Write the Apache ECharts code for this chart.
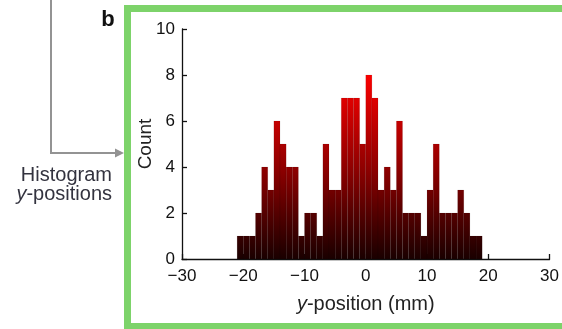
<!DOCTYPE html>
<html>
<head>
<meta charset="utf-8">
<script src="https://cdn.jsdelivr.net/npm/echarts@6/dist/echarts.min.js"></script>
<style>
  html, body { margin: 0; padding: 0; background: #fff; }
  #chart { width: 562px; height: 329px; }
</style>
</head>
<body>
<div id="chart"></div>
<script>
// histogram of y-positions, 1 mm bins starting at -21 mm
var binStart = -21;
var binWidth = 1;
var counts = [1, 1, 1, 2, 4, 3, 6, 5, 4, 4,
              1, 2, 2, 1, 5, 3, 3, 7, 7, 7,
              5, 8, 7, 3, 4, 3, 6, 2, 2, 2,
              1, 3, 5, 2, 2, 2, 3, 2, 1, 1];
var xTicks = [-30, -20, -10, 0, 10, 20, 30];
var yTicks = [0, 2, 4, 6, 8, 10];

var font = '"Liberation Sans", Arial, Helvetica, sans-serif';

// [left edge, right edge, count]
var bins = counts.map(function (c, i) {
    var left = binStart + i * binWidth;
    return [left, left + binWidth, c];
});

var chart = echarts.init(document.getElementById('chart'));

var option = {
    animation: false,
    grid: { left: 182, right: 9, top: 29, bottom: 70 },
    xAxis: {
        type: 'value',
        min: xTicks[0],
        max: xTicks[xTicks.length - 1],
        interval: 10,
        name: '{i|y}-position (mm)',
        nameLocation: 'middle',
        nameGap: 35,
        nameTextStyle: {
            fontFamily: font, fontSize: 20, color: '#222',
            rich: { i: { fontStyle: 'italic', fontFamily: font, fontSize: 20, color: '#222' } }
        },
        axisLine: { show: true, onZero: false, lineStyle: { color: '#111', width: 1.3 } },
        axisTick: { show: true, inside: true, length: 5, lineStyle: { color: '#111', width: 1.3 } },
        axisLabel: {
            fontFamily: font, fontSize: 17, color: '#111', margin: 9,
            formatter: function (v) { return v < 0 ? '\u2212' + Math.abs(v) : String(v); }
        },
        splitLine: { show: false }
    },
    yAxis: {
        type: 'value',
        min: yTicks[0],
        max: yTicks[yTicks.length - 1],
        interval: 2,
        name: 'Count',
        nameLocation: 'middle',
        nameGap: 27,
        nameMoveOverlap: false,
        nameTextStyle: { fontFamily: font, fontSize: 19, color: '#222' },
        axisLine: { show: true, onZero: false, lineStyle: { color: '#111', width: 1.3 } },
        axisTick: { show: true, inside: true, length: 5, lineStyle: { color: '#111', width: 1.3 } },
        axisLabel: { fontFamily: font, fontSize: 17, color: '#111', margin: 7, padding: [10, 0, 0, 0] },
        splitLine: { show: false }
    },
    series: [{
        type: 'custom',
        data: bins,
        encode: { x: [0, 1], y: 2 },
        renderItem: function (params, api) {
            var top = api.coord([api.value(0), api.value(2)]);
            var bottom = api.coord([api.value(1), 0]);
            var hot = api.coord([0, 8])[1];
            var base = api.coord([0, 0])[1];
            return {
                type: 'rect',
                shape: { x: top[0], y: top[1], width: bottom[0] - top[0], height: bottom[1] - top[1] },
                style: {
                    fill: {
                        type: 'linear', x: 0, y: hot, x2: 0, y2: base, global: true,
                        colorStops: [
                            { offset: 0, color: '#fa0000' },
                            { offset: 0.5, color: '#900000' },
                            { offset: 1, color: '#1a0000' }
                        ]
                    },
                    stroke: 'rgba(0,0,0,0.15)',
                    lineWidth: 0.5
                }
            };
        }
    }],
    graphic: [
        {
            type: 'rect',
            shape: { x: 127.5, y: 8.5, width: 500, height: 318 },
            style: { fill: 'none', stroke: '#7dd36a', lineWidth: 7 },
            z: 10
        },
        {
            type: 'polyline',
            shape: { points: [[51, 0], [51, 153], [117, 153]] },
            style: { fill: 'none', stroke: '#939393', lineWidth: 2 }
        },
        {
            type: 'polygon',
            shape: { points: [[115, 148.5], [124, 153], [115, 157.5]] },
            style: { fill: '#939393' }
        },
        {
            type: 'text',
            x: 112, y: 175,
            style: { text: 'Histogram', font: '20px ' + font, fill: '#33333f', align: 'right', verticalAlign: 'middle' }
        },
        {
            type: 'text',
            x: 112, y: 194,
            style: {
                text: '{i|y}-positions', font: '20px ' + font, fill: '#33333f', align: 'right', verticalAlign: 'middle',
                rich: { i: { fontStyle: 'italic', fontFamily: font, fontSize: 20, fill: '#33333f' } }
            }
        },
        {
            type: 'text',
            x: 108, y: 20,
            style: { text: 'b', font: 'bold 22px ' + font, fill: '#111', align: 'center', verticalAlign: 'middle' }
        }
    ]
};

chart.setOption(option);
</script>
</body>
</html>
